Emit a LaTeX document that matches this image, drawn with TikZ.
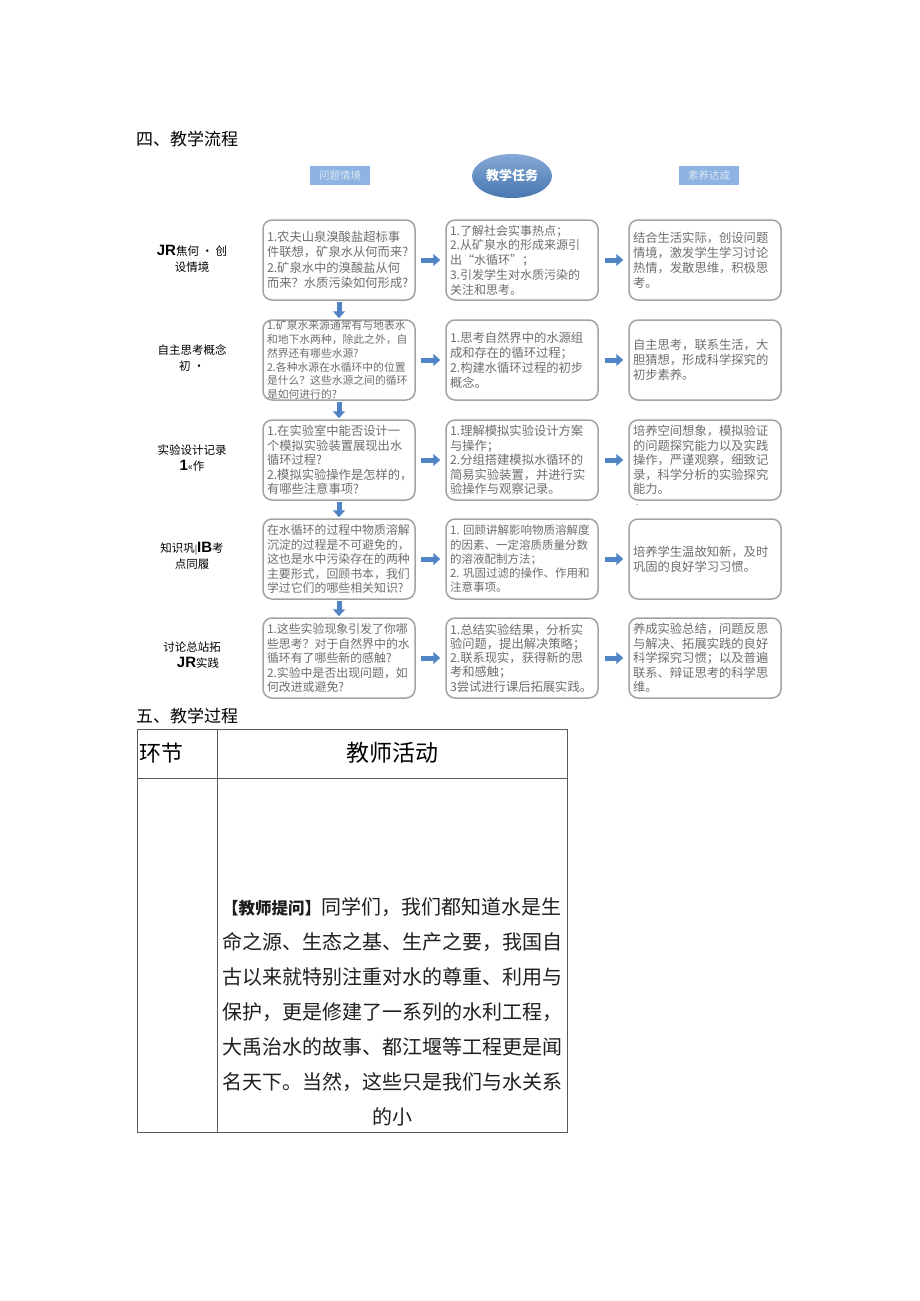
\documentclass[tikz,border=0pt]{standalone}
\usepackage{fontspec}
\usepackage{xcolor}
\usetikzlibrary{arrows.meta,shapes.geometric}
\setmainfont{Noto Sans CJK SC}
\newfontfamily\latinBold{Liberation Sans}
\definecolor{flowGray}{HTML}{A3A3A3}
\definecolor{flowText}{HTML}{6E6E6E}
\definecolor{flowBlue}{HTML}{5084C4}
\definecolor{headBlue}{HTML}{8DB4E2}
\definecolor{headText}{HTML}{DCE6F2}
\definecolor{ruleGray}{HTML}{5A5A5A}
\newcommand{\flowCell}[3]{\parbox[c][70pt][c]{144pt}{\fontsize{#1}{#2}\selectfont\raggedright #3}}
\newcommand{\stageBig}[1]{{\latinBold\bfseries\fontsize{15}{15}\selectfont #1}}

\begin{document}
\begin{tikzpicture}[x=1pt,y=-1pt,
  flowbox/.style={draw=flowGray, line width=1.5pt, rounded corners=9pt, inner xsep=4pt, inner ysep=5pt, text=flowText},
  flowarrow/.style={draw=flowBlue, line width=5pt, -{Triangle[length=7pt,width=12pt]}},
  headtag/.style={fill=headBlue, text=headText, minimum width=60pt, minimum height=19pt, inner sep=0pt, font=\fontsize{10.5}{12}\selectfont},
  taskoval/.style={ellipse, minimum width=80pt, minimum height=44pt, inner sep=0pt, top color=flowBlue!70!white, bottom color=flowBlue!90!black, text=white, font=\bfseries\fontsize{13}{14}\selectfont},
  stagelabel/.style={align=center, inner sep=0pt, font=\fontsize{11.5}{16}\selectfont},
  sectitle/.style={anchor=west, inner sep=0pt, font=\fontsize{17}{20}\selectfont},
  bodyline/.style={anchor=base west, inner sep=0pt, font=\fontsize{20}{35}\selectfont, text=black!88},
  tablerule/.style={draw=ruleGray, line width=0.9pt}]
\path[use as bounding box, fill=white] (0,0) rectangle (920,1301);

\node[sectitle] (secFour) at (136,139) {四、教学流程};
\node[headtag] (headProb) at (340,175.5) {问题情境};
\node[taskoval] (headTask) at (512,176) {教学任务};
\node[headtag] (headGoal) at (709,175.5) {素养达成};

\node[stagelabel] (stage1) at (192,259) {\stageBig{JR}焦何 · 创\\设情境};
\node[stagelabel] (stage2) at (192,358) {自主思考概念\\初 ·\hspace{12pt}};
\node[stagelabel] (stage3) at (192,458) {实验设计记录\\\stageBig{1}{\fontsize{10}{10}\selectfont «}作};
\node[stagelabel] (stage4) at (192,556) {知识巩{\fontsize{9}{9}\selectfont |}\stageBig{IB}考\\点同履};
\node[stagelabel] (stage5) at (192,655) {讨论总站拓\\\hspace{12pt}\stageBig{JR}实践};

\node[flowbox] (prob1) at (339,260) {\flowCell{12.3}{15.5}{1.农夫山泉溴酸盐超标事\\件联想，矿泉水从何而来?\\2.矿泉水中的溴酸盐从何\\而来？水质污染如何形成?}};
\node[flowbox] (task1) at (522,260) {\flowCell{12}{14.8}{1.了解社会实事热点；\\2.从矿泉水的形成来源引\\出“水循环”；\\3.引发学生对水质污染的\\关注和思考。}};
\node[flowbox] (goal1) at (705,260) {\flowCell{12.3}{15}{结合生活实际，创设问题\\情境，激发学生学习讨论\\热情，发散思维，积极思\\考。}};

\node[flowbox] (prob2) at (339,360) {\flowCell{10.8}{13.8}{1.矿泉水来源通常有与地表水\\和地下水两种，除此之外，自\\然界还有哪些水源?\\2.各种水源在水循环中的位置\\是什么？这些水源之间的循环\\是如何进行的?}};
\node[flowbox] (task2) at (522,360) {\flowCell{12.3}{15}{1.思考自然界中的水源组\\成和存在的循环过程；\\2.构建水循环过程的初步\\概念。}};
\node[flowbox] (goal2) at (705,360) {\flowCell{12.3}{15}{自主思考，联系生活，大\\胆猜想，形成科学探究的\\初步素养。}};

\node[flowbox] (prob3) at (339,460) {\flowCell{12.3}{14.5}{1.在实验室中能否设计一\\个模拟实验装置展现出水\\循环过程?\\2.模拟实验操作是怎样的，\\有哪些注意事项?}};
\node[flowbox] (task3) at (522,460) {\flowCell{12.3}{14.5}{1.理解模拟实验设计方案\\与操作；\\2.分组搭建模拟水循环的\\简易实验装置，并进行实\\验操作与观察记录。}};
\node[flowbox] (goal3) at (705,460) {\flowCell{12.3}{14.5}{培养空间想象，模拟验证\\的问题探究能力以及实践\\操作，严谨观察，细致记\\录，科学分析的实验探究\\能力。}};
\node[text=flowText, inner sep=0pt, font=\fontsize{9}{9}\selectfont] (goalDot) at (637,505) {.};

\node[flowbox] (prob4) at (339,559) {\flowCell{11.9}{14.5}{在水循环的过程中物质溶解\\沉淀的过程是不可避免的，\\这也是水中污染存在的两种\\主要形式，回顾书本，我们\\学过它们的哪些相关知识?}};
\node[flowbox] (task4) at (522,559) {\flowCell{11.5}{14.2}{1. 回顾讲解影响物质溶解度\\的因素、一定溶质质量分数\\的溶液配制方法；\\2. 巩固过滤的操作、作用和\\注意事项。}};
\node[flowbox] (goal4) at (705,559) {\flowCell{12.3}{15}{培养学生温故知新，及时\\巩固的良好学习习惯。}};

\node[flowbox] (prob5) at (339,658) {\flowCell{11.9}{14.5}{1.这些实验现象引发了你哪\\些思考？对于自然界中的水\\循环有了哪些新的感触?\\2.实验中是否出现问题，如\\何改进或避免?}};
\node[flowbox] (task5) at (522,658) {\flowCell{12.3}{14.2}{1.总结实验结果，分析实\\验问题，提出解决策略；\\2.联系现实，获得新的思\\考和感触；\\3尝试进行课后拓展实践。}};
\node[flowbox] (goal5) at (705,658) {\flowCell{12.3}{14.5}{养成实验总结，问题反思\\与解决、拓展实践的良好\\科学探究习惯；以及普遍\\联系、辩证思考的科学思\\维。}};

\foreach \r in {1,...,5} {
  \draw[flowarrow] ([xshift=5pt]prob\r.east) -- ([xshift=-5pt]task\r.west);
  \draw[flowarrow] ([xshift=6pt]task\r.east) -- ([xshift=-5pt]goal\r.west);
}
\foreach \r/\s in {1/2,2/3,3/4,4/5}
  \draw[flowarrow] ([yshift=-1pt]prob\r.south) -- ([yshift=1pt]prob\s.north);

\node[sectitle] (secFive) at (136,716) {五、教学过程};
\draw[tablerule] (137,729) rectangle (567,1132);
\draw[tablerule] (137,778) -- (567,778);
\draw[tablerule] (217,729) -- (217,1132);
\node[anchor=west, inner sep=0pt, font=\fontsize{22}{24}\selectfont] (cellStep) at (139,753) {环节};
\node[inner sep=0pt, font=\fontsize{23}{24}\selectfont] (cellTeach) at (392,753) {教师活动};

\node[bodyline] (line0) at (222,914.6) {{\bfseries\fontsize{16.5}{20}\selectfont 【教师提问】}同学们，我们都知道水是生};
\foreach \ln [count=\k] in {命之源、生态之基、生产之要，我国自,古以来就特别注重对水的尊重、利用与,保护，更是修建了一系列的水利工程，,大禹治水的故事、都江堰等工程更是闻,名天下。当然，这些只是我们与水关系}
  \node[bodyline] (line\k) at (222,914.6+35*\k) {\ln};
\node[bodyline, anchor=base] (line6) at (392,1124.6) {的小};
\end{tikzpicture}
\end{document}
